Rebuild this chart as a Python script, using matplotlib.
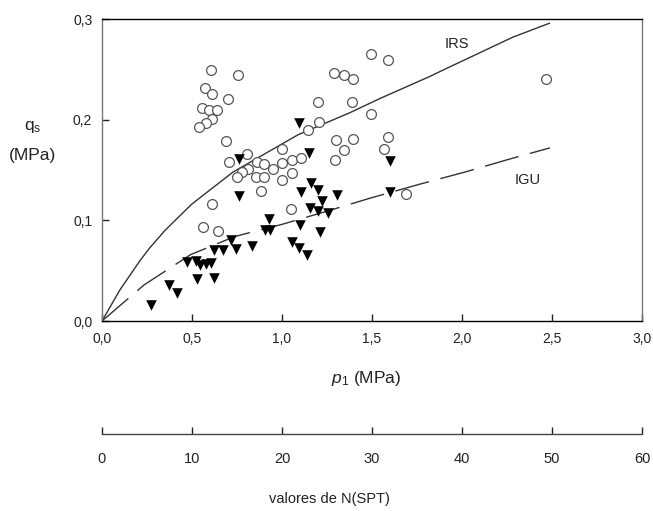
import matplotlib
matplotlib.use("Agg")
import matplotlib.pyplot as plt
from matplotlib.ticker import FixedLocator, FixedFormatter

plt.rcParams['font.family'] = ['Liberation Sans', 'DejaVu Sans']
plt.rcParams['mathtext.fontset'] = 'custom'
plt.rcParams['mathtext.rm'] = 'Liberation Sans'
plt.rcParams['mathtext.it'] = 'Liberation Sans:italic'

# ---- data ----
circ_x = [0.606, 0.756, 0.574, 0.611, 0.700, 0.557, 0.596, 0.637, 0.613, 0.576,
          0.539, 0.689, 0.804, 0.706, 0.859, 0.900, 1.002, 1.002, 1.054, 1.106,
          0.813, 0.779, 0.752, 0.948, 0.856, 0.902, 1.056, 1.002, 0.883, 1.050,
          0.609, 0.563, 0.646, 1.494, 1.589, 1.291, 1.344, 1.393, 1.200, 1.389,
          1.493, 1.204, 1.143, 1.298, 1.394, 1.591, 1.344, 1.565, 1.294, 1.687,
          2.468]
circ_y = [0.249, 0.244, 0.231, 0.225, 0.221, 0.212, 0.210, 0.210, 0.201, 0.197,
          0.193, 0.179, 0.166, 0.158, 0.158, 0.156, 0.171, 0.157, 0.160, 0.162,
          0.151, 0.148, 0.143, 0.151, 0.143, 0.143, 0.147, 0.140, 0.129, 0.111,
          0.116, 0.093, 0.089, 0.265, 0.259, 0.246, 0.244, 0.240, 0.218, 0.218,
          0.206, 0.198, 0.190, 0.180, 0.181, 0.183, 0.170, 0.171, 0.160, 0.126,
          0.240]

tri_x = [0.272, 0.372, 0.418, 0.474, 0.522, 0.544, 0.576, 0.606, 0.526, 0.624,
         0.624, 0.674, 0.743, 0.715, 0.831, 0.908, 0.929, 0.933, 0.759, 0.761,
         1.094, 1.150, 1.161, 1.202, 1.106, 1.307, 1.224, 1.156, 1.202, 1.257,
         1.100, 1.211, 1.057, 1.096, 1.141, 1.600, 1.600]
tri_y = [0.016, 0.036, 0.028, 0.059, 0.060, 0.056, 0.057, 0.058, 0.042, 0.043,
         0.071, 0.071, 0.072, 0.080, 0.075, 0.090, 0.101, 0.090, 0.161, 0.124,
         0.197, 0.167, 0.137, 0.130, 0.128, 0.125, 0.119, 0.112, 0.109, 0.107,
         0.095, 0.088, 0.078, 0.073, 0.066, 0.159, 0.128]

irs_x = [0.0, 0.100, 0.211, 0.267, 0.350, 0.498, 0.728, 0.933,
         1.089, 1.378, 1.544, 1.822, 1.915, 2.283, 2.489]
irs_y = [0.0, 0.031, 0.060, 0.073, 0.090, 0.116, 0.148, 0.169,
         0.185, 0.207, 0.221, 0.243, 0.251, 0.282, 0.296]

igu_x = [0.0, 0.235, 0.493, 0.739, 1.000, 1.248, 1.489, 1.767, 2.017, 2.267, 2.489]
igu_y = [0.0, 0.036, 0.066, 0.084, 0.096, 0.109, 0.122, 0.136, 0.148, 0.161, 0.172]

x_ticks = [0.0, 0.5, 1.0, 1.5, 2.0, 2.5, 3.0]
x_ticklabels = ['0,0', '0,5', '1,0', '1,5', '2,0', '2,5', '3,0']
y_ticks = [0.0, 0.1, 0.2, 0.3]
y_ticklabels = ['0,0', '0,1', '0,2', '0,3']
n_ticks = [0, 10, 20, 30, 40, 50, 60]
n_ticklabels = ['0', '10', '20', '30', '40', '50', '60']

# ---- figure ----
W, H = 653, 511
fig = plt.figure(figsize=(W / 100, H / 100), dpi=100)

L, R = 102 / W, 642 / W
ax = fig.add_axes([L, 1 - 321 / H, R - L, (321 - 19) / H])

ax.plot(irs_x, irs_y, color='#333333', lw=1.0, solid_capstyle='butt')
ax.plot(igu_x, igu_y, color='#333333', lw=1.0, dashes=(25, 8.5))
ax.scatter(circ_x, circ_y, s=50, facecolors='white', edgecolors='#555555',
           linewidths=0.9, zorder=3)
ax.scatter(tri_x, tri_y, s=58, marker='v', color='black', linewidths=0, zorder=4)

ax.set_xlim(0, 3.0)
ax.set_ylim(0, 0.3)
ax.set_xticks(x_ticks)
ax.set_xticklabels(x_ticklabels)
ax.set_yticks(y_ticks)
ax.set_yticklabels(y_ticklabels)
ax.tick_params(axis='both', direction='in', length=5, width=1, labelsize=10,
               colors='#222222')
ax.tick_params(axis='x', pad=8)
ax.tick_params(axis='y', pad=7)
ax.tick_params(top=False, right=False)
for side in ['top', 'bottom']:
    ax.spines[side].set_color('black')
    ax.spines[side].set_linewidth(1.0)
for side in ['left', 'right']:
    ax.spines[side].set_color('#777777')
    ax.spines[side].set_linewidth(1.0)

fig.text(457 / W, 1 - 44 / H, 'IRS', fontsize=10.5, ha='center', va='center',
         color='#222222')
fig.text(528 / W, 1 - 180 / H, 'IGU', fontsize=10.5, ha='center', va='center',
         color='#222222')

# y label
fig.text(33 / W, 1 - 127 / H, r'$\mathregular{q_s}$', fontsize=12.5,
         ha='center', va='center', color='#222222')
fig.text(33 / W, 1 - 155 / H, '(MPa)', fontsize=12.5, ha='center', va='center',
         color='#222222')
# x label
fig.text(366 / W, 1 - 378 / H, r'$p_1$ (MPa)', fontsize=12.5, ha='center',
         va='center', color='#222222')

# secondary N(SPT) axis
ax2 = fig.add_axes([L, 1 - 434 / H, R - L, 0.0001])
ax2.set_xlim(0, 60)
ax2.set_ylim(0, 1)
ax2.xaxis.set_major_locator(FixedLocator(n_ticks))
ax2.xaxis.set_major_formatter(FixedFormatter(n_ticklabels))
ax2.set_yticks([])
for side in ['top', 'left', 'right']:
    ax2.spines[side].set_visible(False)
ax2.spines['bottom'].set_color('#444444')
ax2.spines['bottom'].set_linewidth(1.0)
ax2.patch.set_visible(False)
ax2.tick_params(axis='x', direction='in', length=5, width=1, labelsize=10.5,
                colors='#222222', pad=13)
fig.text(329 / W, 1 - 499 / H, 'valores de N(SPT)', fontsize=10.5,
         ha='center', va='center', color='#222222')

fig.savefig('out.png', dpi=100)
